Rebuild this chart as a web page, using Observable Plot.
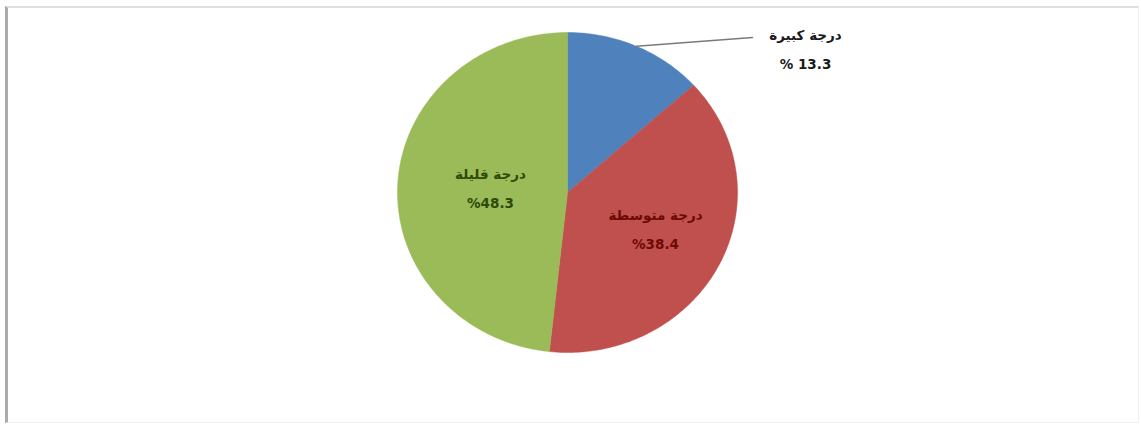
<!DOCTYPE html>
<html>
<head>
<meta charset="utf-8">
<script src="https://cdn.jsdelivr.net/npm/d3@7"></script>
<script src="https://cdn.jsdelivr.net/npm/@observablehq/plot@0.6"></script>
<style>
  html, body { margin: 0; padding: 0; background: #fff; }
  #wrap { position: relative; width: 1141px; height: 434px; overflow: hidden; }
  #frame { position: absolute; left: 5px; top: 6px; width: 1130px; height: 414px;
           border-left: 3px solid #ababab; border-top: 2px solid #dedede;
           border-right: 1px solid #f2f2f2; border-bottom: 1px solid #f2f2f2; }
  #chart { position: absolute; left: 0; top: 0; }
</style>
</head>
<body>
<div id="wrap"><div id="frame"></div><div id="chart"></div></div>
<script>
// Data
const categories = ["درجة كبيرة", "درجة متوسطة", "درجة قليلة"];
const values = [13.3, 38.4, 48.3];
const valueLabels = ["% 13.3", "%38.4", "%48.3"];
const colors = ["#4f81bd", "#c0504d", "#9bbb59"];
const textColors = ["#1a1a1a", "#6e0a06", "#2e4a08"];

// Layout (pixels)
const W = 1141, H = 434, cx = 567, cy = 192, rx = 170, ry = 160;

const pie = d3.pie().sort(null).value(d => d.value);
const arcs = pie(categories.map((c, i) => ({cat: c, value: values[i], i})));

// slice polygons in unit coordinates (radius 1)
const pts = [];
arcs.forEach(a => {
  const n = Math.max(4, Math.ceil((a.endAngle - a.startAngle) / (Math.PI / 180)));
  pts.push({cat: a.data.cat, x: 0, y: 0});
  for (let k = 0; k <= n; k++) {
    const t = a.startAngle + (a.endAngle - a.startAngle) * k / n;
    pts.push({cat: a.data.cat, x: Math.sin(t), y: Math.cos(t)});
  }
  pts.push({cat: a.data.cat, x: 0, y: 0});
});

// px -> unit helpers for label placement
const ux = px => (px - cx) / rx;
const uy = py => (cy - py) / ry;

const labelPos = [[805, 45], [655, 225], [490, 184]];
const labels = arcs.map((a, i) => ({
  text: categories[i] + "\n" + valueLabels[i],
  x: ux(labelPos[i][0]), y: uy(labelPos[i][1]), color: textColors[i]
}));

const mid0 = (arcs[0].startAngle + arcs[0].endAngle) / 2;
const leader = [
  {x: Math.sin(mid0), y: Math.cos(mid0)},
  {x: ux(752), y: uy(37)}
];

const plot = Plot.plot({
  width: W, height: H, margin: 0,
  x: {domain: [ux(0), ux(W)], axis: null},
  y: {domain: [uy(H), uy(0)], axis: null},
  style: {background: "transparent"},
  marks: [
    Plot.line(pts, {x: "x", y: "y", z: "cat", fill: d => colors[categories.indexOf(d.cat)], stroke: d => colors[categories.indexOf(d.cat)], strokeWidth: 0.5, curve: "linear"}),
    Plot.line(leader, {x: "x", y: "y", stroke: "#7a7a7a", strokeWidth: 1.4}),
    Plot.text(labels, {x: "x", y: "y", text: "text", fill: "color", fontSize: 13.5, fontWeight: "bold", lineHeight: 2.1, fontFamily: "DejaVu Sans, Arial, sans-serif"})
  ]
});
document.getElementById("chart").appendChild(plot);
</script>
</body>
</html>
